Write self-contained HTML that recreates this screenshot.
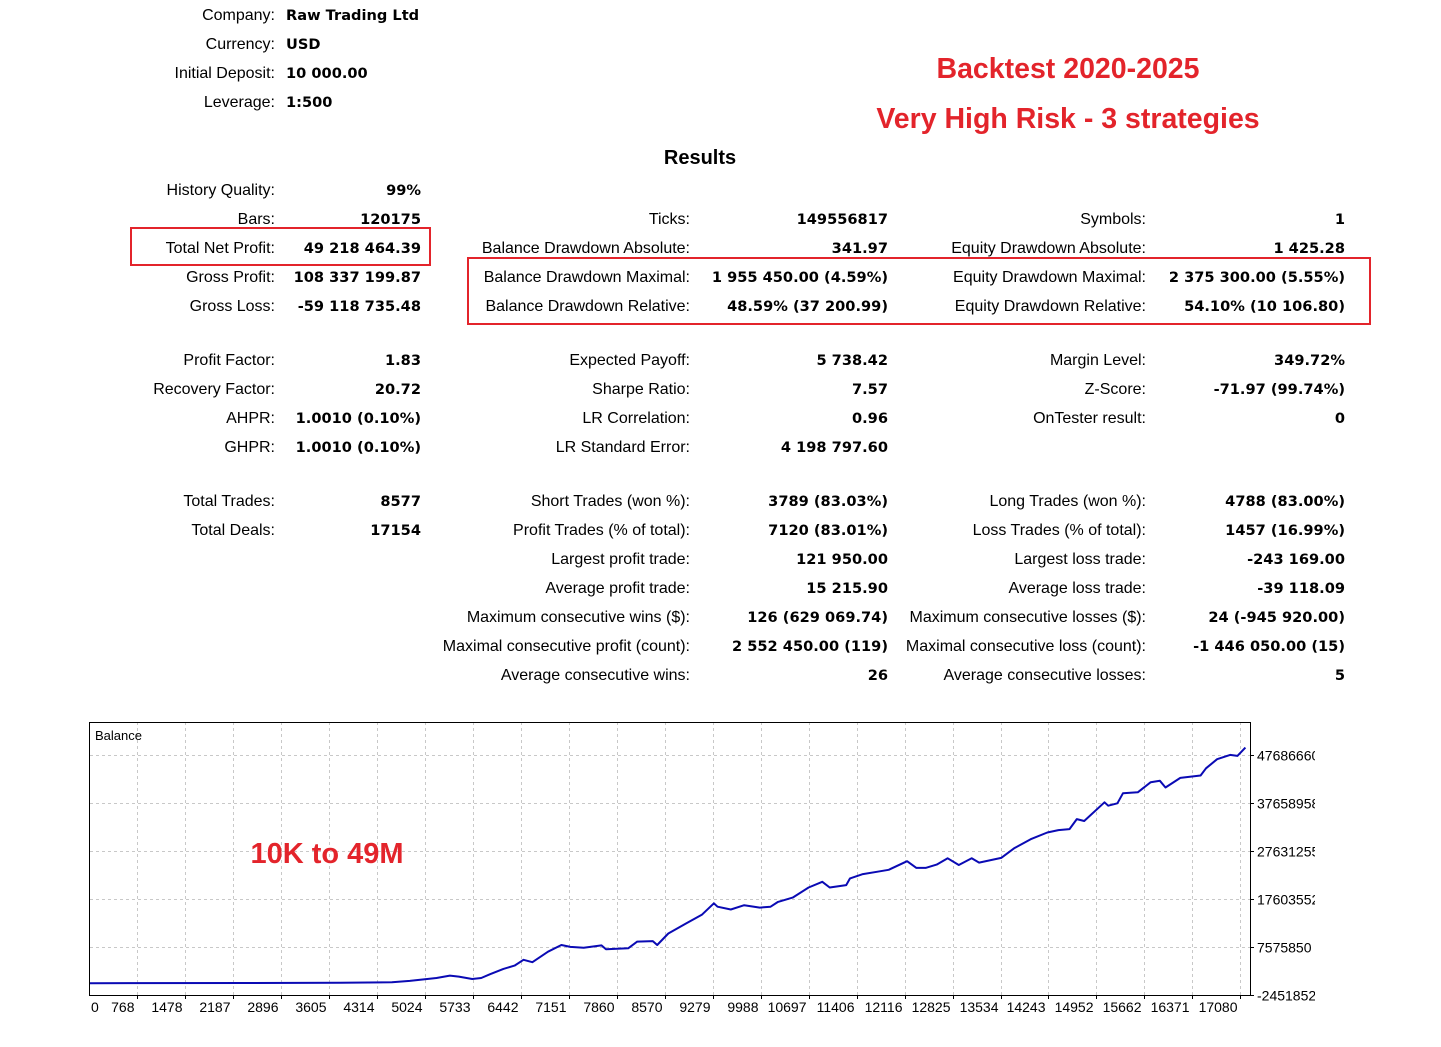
<!DOCTYPE html>
<html><head><meta charset="utf-8">
<style>
body{margin:0;width:1441px;height:1047px;background:#fff;position:relative;overflow:hidden;font-family:"Liberation Sans",sans-serif;color:#000}
.l{position:absolute;font-size:16px;text-align:right;white-space:nowrap;line-height:20px}
.v{position:absolute;font-family:"DejaVu Sans","Liberation Sans",sans-serif;font-weight:bold;font-size:14.6px;white-space:nowrap;line-height:20px}
.vr{text-align:right}
.box{position:absolute;border:2px solid #e3242b}
.red{position:absolute;color:#e3242b;font-weight:bold;white-space:nowrap;font-family:"Liberation Sans",sans-serif}
</style></head><body>
<div id="stats"></div>
<div class="red" style="left:868px;width:400px;text-align:center;top:53px;font-size:28.5px">Backtest 2020-2025</div>
<div class="red" style="left:818px;width:500px;text-align:center;top:103px;font-size:28.5px">Very High Risk - 3 strategies</div>
<div style="position:absolute;left:600px;width:200px;text-align:center;top:147px;font-weight:bold;font-size:20px">Results</div>
<div class="box" style="left:130px;top:227px;width:297px;height:35px"></div>
<div class="box" style="left:467px;top:257px;width:900px;height:64px"></div>

<svg id="chart" width="1441" height="1047" style="position:absolute;left:0;top:0">
<defs><clipPath id="pc"><rect x="90" y="722" width="1160" height="273"/></clipPath></defs>
</svg>

<script>
const top4=[["Company:","Raw Trading Ltd"],["Currency:","USD"],["Initial Deposit:","10 000.00"],["Leverage:","1:500"]];
const col1=[[189,"History Quality:","99%"],[218,"Bars:","120175"],[247,"Total Net Profit:","49 218 464.39"],[276,"Gross Profit:","108 337 199.87"],[305,"Gross Loss:","-59 118 735.48"],
[359,"Profit Factor:","1.83"],[388,"Recovery Factor:","20.72"],[417,"AHPR:","1.0010 (0.10%)"],[446,"GHPR:","1.0010 (0.10%)"],[500,"Total Trades:","8577"],[529,"Total Deals:","17154"]];
const col2=[[218,"Ticks:","149556817"],[247,"Balance Drawdown Absolute:","341.97"],[276,"Balance Drawdown Maximal:","1 955 450.00 (4.59%)"],[305,"Balance Drawdown Relative:","48.59% (37 200.99)"],
[359,"Expected Payoff:","5 738.42"],[388,"Sharpe Ratio:","7.57"],[417,"LR Correlation:","0.96"],[446,"LR Standard Error:","4 198 797.60"],
[500,"Short Trades (won %):","3789 (83.03%)"],[529,"Profit Trades (% of total):","7120 (83.01%)"],[558,"Largest profit trade:","121 950.00"],[587,"Average profit trade:","15 215.90"],
[616,"Maximum consecutive wins ($):","126 (629 069.74)"],[645,"Maximal consecutive profit (count):","2 552 450.00 (119)"],[674,"Average consecutive wins:","26"]];
const col3=[[218,"Symbols:","1"],[247,"Equity Drawdown Absolute:","1 425.28"],[276,"Equity Drawdown Maximal:","2 375 300.00 (5.55%)"],[305,"Equity Drawdown Relative:","54.10% (10 106.80)"],
[359,"Margin Level:","349.72%"],[388,"Z-Score:","-71.97 (99.74%)"],[417,"OnTester result:","0"],
[500,"Long Trades (won %):","4788 (83.00%)"],[529,"Loss Trades (% of total):","1457 (16.99%)"],[558,"Largest loss trade:","-243 169.00"],[587,"Average loss trade:","-39 118.09"],
[616,"Maximum consecutive losses ($):","24 (-945 920.00)"],[645,"Maximal consecutive loss (count):","-1 446 050.00 (15)"],[674,"Average consecutive losses:","5"]];
const st=document.getElementById('stats');
function slug(s){return s.toLowerCase().replace(/[^a-z0-9]+/g,'-').replace(/^-|-$/g,'');}
function addRow(y,lab,val,lr,vr,valLeft){
  const a=document.createElement('div');a.className='l';a.textContent=lab;
  a.style.right=(1441-lr)+'px';a.style.top=(y-8)+'px';
  
  
  st.appendChild(a);
  const b=document.createElement('div');b.className='v'+(valLeft?'':' vr');b.textContent=val;
  if(valLeft){b.style.left=vr+'px';}else{b.style.right=(1441-vr)+'px';}
  b.style.top=(y-8)+'px';
  
  
  st.appendChild(b);
}
top4.forEach((r,i)=>addRow(14+29*i,r[0],r[1],275,286,true));
col1.forEach(r=>addRow(r[0],r[1],r[2],275,421,false));
col2.forEach(r=>addRow(r[0],r[1],r[2],690,888,false));
col3.forEach(r=>addRow(r[0],r[1],r[2],1146,1345,false));
</script>

<script>
const xTickLabels=[768,1478,2187,2896,3605,4314,5024,5733,6442,7151,7860,8570,9279,9988,10697,11406,12116,12825,13534,14243,14952,15662,16371,17080];
const yTickValues=[-2451852,7575850,17603552,27631255,37658958,47686660];
const yTickLabels=["-2451852","7575850","17603552","27631255","37658958","47686660"];
const dealNums=[0,2363,3780,4537,4801,5196,5394,5526,5724,5856,5988,6185,6350,6482,6614,6844,7042,7174,7371,7635,7701,8030,8162,8393,8459,8623,8887,9118,9296,9349,9547,9744,9975,10135,10244,10462,10697,10899,11008,11253,11308,11499,11717,11881,12153,12290,12426,12590,12753,12917,13108,13217,13544,13735,13980,14226,14390,14553,14662,14771,15071,15126,15262,15344,15563,15754,15890,15972,16191,16491,16572,16736,16927,17036,17154];
const balanceM=[0.01,0.05,0.1,0.2,0.5,1.1,1.6,1.4,0.9,1.1,1.9,3.0,3.7,4.9,4.4,6.6,8.0,7.6,7.4,7.9,7.1,7.3,8.7,8.8,8.0,10.4,12.5,14.3,16.7,16.0,15.4,16.3,15.8,16.0,17.0,17.9,20.0,21.2,20.0,20.5,21.9,22.8,23.3,23.7,25.5,24.1,24.1,24.8,26.1,24.7,26.1,25.2,26.2,28.2,30.1,31.5,32.0,32.2,34.3,33.9,37.8,37.1,37.6,39.7,39.9,42.0,42.3,40.9,42.9,43.4,44.9,46.8,47.7,47.5,49.23];

const NS='http://www.w3.org/2000/svg';
const svg=document.getElementById('chart');
const xS=n=>137+(n-768)*48/709.6;
const yS=v=>995-(v-(-2451852))/10027702*48;
function mk(t,at){const e=document.createElementNS(NS,t);for(const k in at)e.setAttribute(k,at[k]);svg.appendChild(e);return e;}

xTickLabels.forEach(n=>{
  const x=Math.round(xS(n))+0.5;
  const g=mk('line',{x1:x,x2:x,y1:722,y2:995,stroke:'#c8c8c8','stroke-dasharray':'3,3'});
  
  
  const t=mk('line',{x1:x,x2:x,y1:995,y2:999,stroke:'#000'});
  
  
  const lb=mk('text',{x:x-3,y:1012,'text-anchor':'end','font-size':'14','font-family':'Liberation Sans, sans-serif'});
  lb.textContent=n;
  
  
});
const z=mk('text',{x:91,y:1012,'font-size':'14','font-family':'Liberation Sans, sans-serif'});z.textContent='0';


yTickValues.forEach((v,i)=>{
  const y=Math.round(yS(v))+0.5;
  if(i>0){const g=mk('line',{x1:90,x2:1250,y1:y,y2:y,stroke:'#c8c8c8','stroke-dasharray':'3,3'});
  
  }
  const t=mk('line',{x1:1250,x2:1254,y1:y,y2:y,stroke:'#000'});
  
  
  const lb=mk('text',{x:1257,y:y+5,'font-size':'14','font-family':'Liberation Sans, sans-serif'});
  lb.textContent=yTickLabels[i];
  
  
});
const cv=mk('rect',{x:1315,y:740,width:126,height:270,fill:'#fff'});


const fr=mk('rect',{x:89.5,y:722.5,width:1161,height:273,fill:'none',stroke:'#000','stroke-width':1});


const bt=mk('text',{x:95,y:740,'font-size':'13','font-family':'Liberation Sans, sans-serif'});bt.textContent='Balance';


const ann=mk('text',{x:327,y:863,'text-anchor':'middle','font-size':'29','font-weight':'bold',fill:'#e3242b','font-family':'Liberation Sans, sans-serif'});ann.textContent='10K to 49M';


let d='';
dealNums.forEach((n,i)=>{d+=(i?'L':'M')+xS(n).toFixed(1)+','+yS(balanceM[i]*1e6).toFixed(1);});
const ln=mk('path',{d:d,fill:'none',stroke:'#0a0ab4','stroke-width':2,'clip-path':'url(#pc)','stroke-linejoin':'round'});


</script>
</body></html>
